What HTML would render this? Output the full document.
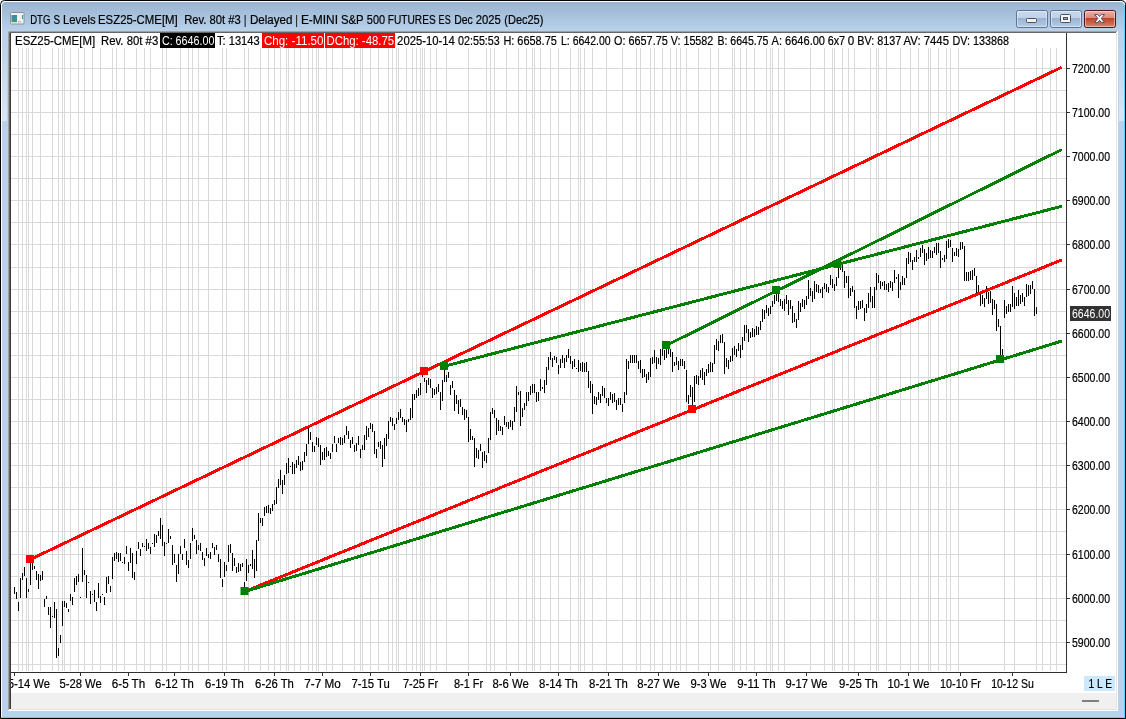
<!DOCTYPE html>
<html><head><meta charset="utf-8"><title>DTG S Levels ESZ25-CME[M]</title>
<style>html,body{margin:0;padding:0;background:#fff;overflow:hidden}svg{display:block}</style></head>
<body>
<svg width="1126" height="719" viewBox="0 0 1126 719" font-family="'Liberation Sans', sans-serif" font-size="12px">
<style>text{stroke:#000;stroke-width:0.2px;paint-order:stroke}text.w{stroke:none}</style>
<defs>
<linearGradient id="tg" x1="0" y1="0" x2="0" y2="1"><stop offset="0" stop-color="#99b4d1"/><stop offset="1" stop-color="#b9d1ea"/></linearGradient>
<linearGradient id="bt" x1="0" y1="0" x2="0" y2="1"><stop offset="0" stop-color="#c6d8ec"/><stop offset="0.45" stop-color="#bfd3e9"/><stop offset="0.46" stop-color="#98b2d0"/><stop offset="1" stop-color="#b6cee9"/></linearGradient>
<linearGradient id="bc" x1="0" y1="0" x2="0" y2="1"><stop offset="0" stop-color="#eab0a3"/><stop offset="0.45" stop-color="#dc8a79"/><stop offset="0.46" stop-color="#bf4229"/><stop offset="1" stop-color="#d98670"/></linearGradient>
<linearGradient id="ic" x1="0" y1="0" x2="0" y2="1"><stop offset="0" stop-color="#4a80c4"/><stop offset="1" stop-color="#3f9d62"/></linearGradient>
<linearGradient id="sg" x1="0" y1="0" x2="0" y2="1"><stop offset="0" stop-color="#b9d1ea"/><stop offset="1" stop-color="#d9e6f5"/></linearGradient>
<clipPath id="cc"><rect x="11" y="33" width="1055" height="639"/></clipPath>
<clipPath id="cx"><rect x="11" y="672" width="1106" height="21"/></clipPath>
</defs>
<rect width="1126" height="719" fill="#fff"/>
<path d="M0.5 718.5 V4.5 Q0.5 0.5 4.5 0.5 H1120.5 Q1125.5 0.5 1125.5 4.5 V718.5 Z" fill="#b9d1ea" stroke="#000" stroke-width="1"/>
<path d="M1.5 31 V5 Q1.5 1.5 5 1.5 H1120 Q1124.5 1.5 1124.5 5 V31 Z" fill="url(#tg)"/>
<path d="M1.5 717 V5 Q1.5 1.5 5 1.5 H1120 Q1124.5 1.5 1124.5 5" fill="none" stroke="#fff" stroke-width="1"/>
<path d="M1124.5 5 V717.5 H1" fill="none" stroke="#55d6fa" stroke-width="1"/>
<rect x="2" y="36" width="5" height="85" fill="url(#sg)"/><rect x="1119" y="36" width="5" height="85" fill="url(#sg)"/>
<rect x="8" y="31" width="1110" height="680" fill="#fff"/>
<path d="M8.5 710 V31.5 H1117" fill="none" stroke="#a0a0a0"/>
<path d="M9.5 709 V32.5 H1116" fill="none" stroke="#666"/>
<path d="M10.5 709 V33" fill="none" stroke="#3c3c3c"/>
<rect x="11" y="33" width="1106" height="660" fill="#fff"/>
<rect x="11" y="693" width="1106" height="16" fill="#f0f0f0"/>
<rect x="1116" y="33" width="1" height="677" fill="#e3e3e3"/>
<rect x="11" y="709" width="1106" height="1" fill="#e3e3e3"/>
<rect x="1082" y="700" width="17" height="2" fill="#808080"/>
<path d="M18.5 48V671M22.5 48V671M26.5 48V671M28.5 48V671M32.5 48V671M40.5 48V671M52.5 48V671M58.5 48V671M62.5 48V671M64.5 48V671M70.5 48V671M78.5 48V671M84.5 48V671M92.5 48V671M100.5 48V671M112.5 48V671M116.5 48V671M124.5 48V671M136.5 48V671M144.5 48V671M150.5 48V671M162.5 48V671M166.5 48V671M180.5 48V671M188.5 48V671M192.5 48V671M198.5 48V671M208.5 48V671M222.5 48V671M226.5 48V671M244.5 48V671M248.5 48V671M260.5 48V671M268.5 48V671M274.5 48V671M280.5 48V671M286.5 48V671M288.5 48V671M294.5 48V671M300.5 48V671M308.5 48V671M312.5 48V671M316.5 48V671M318.5 48V671M326.5 48V671M332.5 48V671M342.5 48V671M354.5 48V671M360.5 48V671M362.5 48V671M370.5 48V671M378.5 48V671M388.5 48V671M392.5 48V671M396.5 48V671M398.5 48V671M406.5 48V671M412.5 48V671M416.5 48V671M420.5 48V671M422.5 48V671M424.5 48V671M430.5 48V671M436.5 48V671M446.5 48V671M468.5 48V671M486.5 48V671M490.5 48V671M494.5 48V671M506.5 48V671M518.5 48V671M526.5 48V671M532.5 48V671M534.5 48V671M540.5 48V671M550.5 48V671M558.5 48V671M570.5 48V671M578.5 48V671M580.5 48V671M584.5 48V671M592.5 48V671M606.5 48V671M622.5 48V671M636.5 48V671M640.5 48V671M650.5 48V671M654.5 48V671M662.5 48V671M670.5 48V671M676.5 48V671M680.5 48V671M686.5 48V671M698.5 48V671M710.5 48V671M718.5 48V671M732.5 48V671M734.5 48V671M740.5 48V671M746.5 48V671M754.5 48V671M766.5 48V671M770.5 48V671M772.5 48V671M778.5 48V671M784.5 48V671M810.5 48V671M824.5 48V671M832.5 48V671M834.5 48V671M842.5 48V671M848.5 48V671M854.5 48V671M870.5 48V671M876.5 48V671M878.5 48V671M886.5 48V671M900.5 48V671M910.5 48V671M918.5 48V671M928.5 48V671M930.5 48V671M938.5 48V671M946.5 48V671M950.5 48V671M958.5 48V671M1004.5 48V671M1014.5 48V671M1036.5 48V671M1042.5 48V671M1050.5 48V671M1056.5 48V671M11 68.5H1066M11 90.5H1066M11 112.5H1066M11 134.5H1066M11 156.5H1066M11 178.5H1066M11 200.5H1066M11 222.5H1066M11 244.5H1066M11 267.5H1066M11 289.5H1066M11 311.5H1066M11 333.5H1066M11 355.5H1066M11 377.5H1066M11 399.5H1066M11 421.5H1066M11 443.5H1066M11 465.5H1066M11 487.5H1066M11 509.5H1066M11 531.5H1066M11 554.5H1066M11 576.5H1066M11 598.5H1066M11 620.5H1066M11 642.5H1066M11 664.5H1066" stroke="#d9d9d9" stroke-width="1" fill="none" shape-rendering="crispEdges"/>
<path d="M14.5 587V594M16.5 592V599M18.5 602V611M20.5 578V598M22.5 573V580M24.5 567V576M26.5 578V598M28.5 589V592M30.5 558V585M32.5 562V570M34.5 566V569M36.5 571V580M38.5 574V589M40.5 575V581M42.5 571V580M44.5 599V607M46.5 596V599M48.5 607V615M50.5 607V628M52.5 616V617M54.5 602V618M56.5 609V658M58.5 648V656M60.5 635V643M62.5 601V626M64.5 601V607M66.5 603V608M68.5 609V612M70.5 594V601M72.5 597V605M74.5 578V592M76.5 576V585M78.5 574V582M80.5 597V598M82.5 548V582M84.5 570V575M86.5 575V598M88.5 582V583M90.5 591V604M92.5 594V595M94.5 590V602M96.5 602V611M98.5 583V598M100.5 596V603M102.5 594V595M104.5 597V605M106.5 577V593M108.5 576V584M110.5 586V592M112.5 557V579M114.5 553V561M116.5 552V559M118.5 553V562M120.5 553V561M122.5 562V563M124.5 557V564M126.5 546V554M128.5 562V571M130.5 548V563M132.5 553V578M134.5 572V580M136.5 551V564M138.5 542V549M140.5 549V556M142.5 543V547M144.5 546V547M146.5 539V551M148.5 543V549M150.5 547V554M152.5 543V544M154.5 534V547M156.5 535V543M158.5 531V536M160.5 518V539M162.5 525V546M164.5 542V556M166.5 543V544M168.5 529V543M170.5 536V539M172.5 545V565M174.5 554V563M176.5 565V582M178.5 554V574M180.5 546V554M182.5 554V560M184.5 539V548M186.5 551V565M188.5 560V568M190.5 543V559M192.5 528V541M194.5 535V539M196.5 540V554M198.5 545V550M200.5 543V551M202.5 552V560M204.5 558V566M206.5 548V556M208.5 554V558M210.5 552V559M212.5 543V548M214.5 547V555M216.5 545V550M218.5 554V562M220.5 559V578M222.5 579V587M224.5 562V577M226.5 565V571M228.5 545V562M230.5 544V553M232.5 553V571M234.5 558V566M236.5 567V573M238.5 563V572M240.5 564V571M242.5 563V567M244.5 582V588M246.5 559V581M248.5 565V573M250.5 564V566M252.5 550V569M254.5 559V578M256.5 540V571M258.5 513V541M260.5 518V523M262.5 518V526M264.5 507V516M266.5 506V513M268.5 505V513M270.5 508V514M272.5 504V511M274.5 500V505M276.5 487V504M278.5 479V488M280.5 470V485M282.5 480V494M284.5 475V485M286.5 463V474M288.5 458V473M290.5 466V467M292.5 462V474M294.5 464V474M296.5 460V468M298.5 456V465M300.5 462V471M302.5 461V470M304.5 452V462M306.5 444V456M308.5 428V444M310.5 432V440M312.5 442V452M314.5 446V452M316.5 437V445M318.5 438V447M320.5 445V465M322.5 452V460M324.5 448V460M326.5 447V457M328.5 451V456M330.5 453V459M332.5 444V452M334.5 436V443M336.5 444V452M338.5 438V443M340.5 437V445M342.5 438V445M344.5 435V443M346.5 426V435M348.5 431V439M350.5 440V448M352.5 437V444M354.5 445V452M356.5 443V451M358.5 436V445M360.5 449V458M362.5 445V450M364.5 435V450M366.5 426V440M368.5 428V437M370.5 423V429M372.5 424V432M374.5 431V454M376.5 449V458M378.5 442V447M380.5 441V449M382.5 445V467M384.5 438V459M386.5 434V446M388.5 421V439M390.5 417V422M392.5 418V426M394.5 424V430M396.5 418V424M398.5 412V420M400.5 409V418M402.5 417V422M404.5 419V425M406.5 420V432M408.5 419V422M410.5 408V420M412.5 394V418M414.5 394V400M416.5 390V398M418.5 388V396M420.5 383V395M422.5 372V377M424.5 378V382M426.5 380V393M428.5 378V385M430.5 379V388M432.5 388V398M434.5 389V395M436.5 387V394M438.5 384V392M440.5 392V410M442.5 380V401M444.5 370V382M446.5 375V382M448.5 372V378M450.5 385V395M452.5 381V388M454.5 390V411M456.5 395V404M458.5 400V414M460.5 399V407M462.5 407V415M464.5 409V420M466.5 410V418M468.5 417V442M470.5 429V440M472.5 436V440M474.5 438V467M476.5 448V458M478.5 450V459M480.5 444V451M482.5 452V468M484.5 451V461M486.5 455V463M488.5 438V453M490.5 412V440M492.5 408V414M494.5 410V418M496.5 418V435M498.5 420V431M500.5 426V431M502.5 427V435M504.5 416V425M506.5 422V427M508.5 422V429M510.5 420V427M512.5 421V430M514.5 407V422M516.5 386V412M518.5 392V395M520.5 391V426M522.5 408V417M524.5 403V410M526.5 392V406M528.5 392V401M530.5 386V395M532.5 384V393M534.5 384V393M536.5 392V402M538.5 392V401M540.5 379V391M542.5 387V389M544.5 380V393M546.5 367V385M548.5 357V370M550.5 352V360M552.5 358V367M554.5 356V360M556.5 357V363M558.5 365V374M560.5 359V368M562.5 355V363M564.5 358V368M566.5 355V362M568.5 349V358M570.5 356V364M572.5 361V369M574.5 359V367M576.5 368V369M578.5 360V372M580.5 363V371M582.5 362V372M584.5 363V372M586.5 362V372M588.5 371V388M590.5 381V393M592.5 384V414M594.5 396V404M596.5 397V405M598.5 392V400M600.5 394V403M602.5 386V396M604.5 388V398M606.5 398V403M608.5 398V406M610.5 392V400M612.5 394V403M614.5 393V402M616.5 400V410M618.5 398V405M620.5 398V405M622.5 404V412M624.5 392V403M626.5 359V395M628.5 361V369M630.5 355V363M632.5 355V363M634.5 355V363M636.5 355V363M638.5 361V369M640.5 360V373M642.5 369V378M644.5 369V377M646.5 374V383M648.5 372V380M650.5 358V377M652.5 357V364M654.5 350V363M656.5 357V369M658.5 358V364M660.5 349V365M662.5 349V356M664.5 350V360M666.5 349V358M668.5 349V354M670.5 349V357M672.5 352V372M674.5 362V366M676.5 357V365M678.5 361V370M680.5 359V366M682.5 359V366M684.5 361V369M686.5 370V402M688.5 395V404M690.5 385V397M692.5 387V406M694.5 376V402M696.5 375V384M698.5 376V385M700.5 370V378M702.5 368V380M704.5 372V385M706.5 369V376M708.5 364V373M710.5 362V372M712.5 363V372M714.5 345V364M716.5 339V350M718.5 341V351M720.5 335V343M722.5 334V343M724.5 342V374M726.5 358V367M728.5 360V369M730.5 356V362M732.5 348V361M734.5 346V355M736.5 349V357M738.5 343V351M740.5 345V358M742.5 337V350M744.5 325V341M746.5 325V333M748.5 329V342M750.5 332V338M752.5 328V337M754.5 329V337M756.5 326V335M758.5 327V335M760.5 321V330M762.5 309V322M764.5 310V319M766.5 305V313M768.5 308V316M770.5 306V314M772.5 301V307M774.5 295V304M776.5 293V301M778.5 294V302M780.5 299V306M782.5 301V309M784.5 299V311M786.5 295V304M788.5 300V315M790.5 300V309M792.5 306V323M794.5 313V322M796.5 319V328M798.5 301V320M800.5 303V312M802.5 299V307M804.5 300V309M806.5 296V305M808.5 280V299M810.5 288V296M812.5 291V302M814.5 281V299M816.5 284V292M818.5 285V293M820.5 289V293M822.5 287V298M824.5 283V289M826.5 284V292M828.5 287V293M830.5 275V285M832.5 279V288M834.5 284V291M836.5 277V286M838.5 267V278M840.5 267V270M842.5 264V272M844.5 271V288M846.5 276V283M848.5 276V298M850.5 288V296M852.5 286V292M854.5 290V308M856.5 306V319M858.5 301V310M860.5 301V309M862.5 300V308M864.5 308V321M866.5 304V313M868.5 293V308M870.5 287V302M872.5 296V308M874.5 287V308M876.5 273V290M878.5 275V283M880.5 281V289M882.5 282V286M884.5 281V290M886.5 284V290M888.5 283V292M890.5 281V288M892.5 282V291M894.5 270V283M896.5 277V279M898.5 274V298M900.5 282V290M902.5 276V285M904.5 278V285M906.5 258V278M908.5 252V264M910.5 253V262M912.5 260V270M914.5 257V262M916.5 250V262M918.5 257V259M920.5 248V257M922.5 245V253M924.5 249V265M926.5 253V261M928.5 247V259M930.5 250V258M932.5 251V258M934.5 247V253M936.5 243V255M938.5 243V253M940.5 251V268M942.5 258V260M944.5 255V262M946.5 241V259M948.5 239V248M950.5 240V247M952.5 248V262M954.5 252V256M956.5 248V256M958.5 249V257M960.5 242V250M962.5 242V249M964.5 246V281M966.5 272V281M968.5 272V281M970.5 271V280M972.5 270V280M974.5 268V276M976.5 276V294M978.5 285V295M980.5 293V306M982.5 295V304M984.5 298V307M986.5 286V299M988.5 292V304M990.5 291V303M992.5 299V315M994.5 300V309M996.5 304V331M998.5 319V327M1000.5 326V356M1002.5 349V356M1004.5 300V318M1006.5 306V314M1008.5 304V312M1010.5 304V312M1012.5 286V307M1014.5 293V309M1016.5 297V306M1018.5 290V306M1020.5 295V304M1022.5 293V302M1024.5 297V306M1026.5 284V297M1028.5 285V296M1030.5 285V294M1032.5 281V289M1034.5 289V316M1036.5 307V314" stroke="#000" stroke-width="1" fill="none" shape-rendering="crispEdges"/>
<line x1="30" y1="559.6" x2="1061.8" y2="67.22" stroke="#ff0000" stroke-width="3" shape-rendering="crispEdges"/>
<line x1="244" y1="591.8" x2="1061.8" y2="259.88" stroke="#ff0000" stroke-width="3" shape-rendering="crispEdges"/>
<line x1="244" y1="591.8" x2="1061.8" y2="341.05" stroke="#008000" stroke-width="3" shape-rendering="crispEdges"/>
<line x1="444" y1="366.3" x2="1061.8" y2="206.29" stroke="#008000" stroke-width="3" shape-rendering="crispEdges"/>
<line x1="666" y1="345.5" x2="1061.8" y2="149.6" stroke="#008000" stroke-width="3" shape-rendering="crispEdges"/>
<rect x="26" y="555" width="8" height="8" fill="#ff0000"/>
<rect x="420" y="367" width="8" height="8" fill="#ff0000"/>
<rect x="688" y="405" width="8" height="8" fill="#ff0000"/>
<rect x="240.5" y="587" width="8" height="8" fill="#008000"/>
<rect x="440" y="362" width="8" height="8" fill="#008000"/>
<rect x="662" y="341" width="8" height="8" fill="#008000"/>
<rect x="772" y="286" width="8" height="8" fill="#008000"/>
<rect x="833.5" y="260" width="8" height="8" fill="#008000"/>
<rect x="996" y="355" width="8" height="8" fill="#008000"/>
<path d="M1066.5 33V672.5M11 672.5H1067" stroke="#303030" fill="none" shape-rendering="crispEdges"/>
<rect x="1067" y="68" width="3" height="1" fill="#303030"/>
<text x="1072" y="73.2" textLength="38" lengthAdjust="spacingAndGlyphs">7200.00</text>
<rect x="1067" y="112" width="3" height="1" fill="#303030"/>
<text x="1072" y="117.2" textLength="38" lengthAdjust="spacingAndGlyphs">7100.00</text>
<rect x="1067" y="156" width="3" height="1" fill="#303030"/>
<text x="1072" y="161.2" textLength="38" lengthAdjust="spacingAndGlyphs">7000.00</text>
<rect x="1067" y="200" width="3" height="1" fill="#303030"/>
<text x="1072" y="205.2" textLength="38" lengthAdjust="spacingAndGlyphs">6900.00</text>
<rect x="1067" y="244" width="3" height="1" fill="#303030"/>
<text x="1072" y="249.2" textLength="38" lengthAdjust="spacingAndGlyphs">6800.00</text>
<rect x="1067" y="289" width="3" height="1" fill="#303030"/>
<text x="1072" y="294.2" textLength="38" lengthAdjust="spacingAndGlyphs">6700.00</text>
<rect x="1067" y="333" width="3" height="1" fill="#303030"/>
<text x="1072" y="338.2" textLength="38" lengthAdjust="spacingAndGlyphs">6600.00</text>
<rect x="1067" y="377" width="3" height="1" fill="#303030"/>
<text x="1072" y="382.2" textLength="38" lengthAdjust="spacingAndGlyphs">6500.00</text>
<rect x="1067" y="421" width="3" height="1" fill="#303030"/>
<text x="1072" y="426.2" textLength="38" lengthAdjust="spacingAndGlyphs">6400.00</text>
<rect x="1067" y="465" width="3" height="1" fill="#303030"/>
<text x="1072" y="470.2" textLength="38" lengthAdjust="spacingAndGlyphs">6300.00</text>
<rect x="1067" y="509" width="3" height="1" fill="#303030"/>
<text x="1072" y="514.2" textLength="38" lengthAdjust="spacingAndGlyphs">6200.00</text>
<rect x="1067" y="554" width="3" height="1" fill="#303030"/>
<text x="1072" y="559.2" textLength="38" lengthAdjust="spacingAndGlyphs">6100.00</text>
<rect x="1067" y="598" width="3" height="1" fill="#303030"/>
<text x="1072" y="603.2" textLength="38" lengthAdjust="spacingAndGlyphs">6000.00</text>
<rect x="1067" y="642" width="3" height="1" fill="#303030"/>
<text x="1072" y="647.2" textLength="38" lengthAdjust="spacingAndGlyphs">5900.00</text>
<rect x="1070" y="306" width="41" height="15" fill="#323232"/>
<text x="1072" y="318.2" textLength="38" lengthAdjust="spacingAndGlyphs" fill="#fff" class="w">6646.00</text>
<g clip-path="url(#cx)">
<rect x="14" y="673" width="1" height="3" fill="#303030"/>
<text x="7.7" y="688" textLength="42.3" lengthAdjust="spacingAndGlyphs">5-14 We</text>
<rect x="80" y="673" width="1" height="3" fill="#303030"/>
<text x="59.4" y="688" textLength="42.3" lengthAdjust="spacingAndGlyphs">5-28 We</text>
<rect x="128" y="673" width="1" height="3" fill="#303030"/>
<text x="111.8" y="688" textLength="33.4" lengthAdjust="spacingAndGlyphs">6-5 Th</text>
<rect x="174" y="673" width="1" height="3" fill="#303030"/>
<text x="155.1" y="688" textLength="38.8" lengthAdjust="spacingAndGlyphs">6-12 Th</text>
<rect x="224" y="673" width="1" height="3" fill="#303030"/>
<text x="205.1" y="688" textLength="38.8" lengthAdjust="spacingAndGlyphs">6-19 Th</text>
<rect x="274" y="673" width="1" height="3" fill="#303030"/>
<text x="255.1" y="688" textLength="38.8" lengthAdjust="spacingAndGlyphs">6-26 Th</text>
<rect x="322" y="673" width="1" height="3" fill="#303030"/>
<text x="304.3" y="688" textLength="36.4" lengthAdjust="spacingAndGlyphs">7-7 Mo</text>
<rect x="370" y="673" width="1" height="3" fill="#303030"/>
<text x="351.4" y="688" textLength="38.3" lengthAdjust="spacingAndGlyphs">7-15 Tu</text>
<rect x="420" y="673" width="1" height="3" fill="#303030"/>
<text x="402.9" y="688" textLength="35.3" lengthAdjust="spacingAndGlyphs">7-25 Fr</text>
<rect x="468" y="673" width="1" height="3" fill="#303030"/>
<text x="453.9" y="688" textLength="29.3" lengthAdjust="spacingAndGlyphs">8-1 Fr</text>
<rect x="510" y="673" width="1" height="3" fill="#303030"/>
<text x="492.4" y="688" textLength="36.3" lengthAdjust="spacingAndGlyphs">8-6 We</text>
<rect x="558" y="673" width="1" height="3" fill="#303030"/>
<text x="539.1" y="688" textLength="38.8" lengthAdjust="spacingAndGlyphs">8-14 Th</text>
<rect x="608" y="673" width="1" height="3" fill="#303030"/>
<text x="589.1" y="688" textLength="38.8" lengthAdjust="spacingAndGlyphs">8-21 Th</text>
<rect x="658" y="673" width="1" height="3" fill="#303030"/>
<text x="637.2" y="688" textLength="42.6" lengthAdjust="spacingAndGlyphs">8-27 We</text>
<rect x="708" y="673" width="1" height="3" fill="#303030"/>
<text x="690.5" y="688" textLength="35.9" lengthAdjust="spacingAndGlyphs">9-3 We</text>
<rect x="756" y="673" width="1" height="3" fill="#303030"/>
<text x="737.2" y="688" textLength="38.5" lengthAdjust="spacingAndGlyphs">9-11 Th</text>
<rect x="806" y="673" width="1" height="3" fill="#303030"/>
<text x="785.5" y="688" textLength="42" lengthAdjust="spacingAndGlyphs">9-17 We</text>
<rect x="858" y="673" width="1" height="3" fill="#303030"/>
<text x="839.1" y="688" textLength="38.8" lengthAdjust="spacingAndGlyphs">9-25 Th</text>
<rect x="908" y="673" width="1" height="3" fill="#303030"/>
<text x="887.6" y="688" textLength="41.8" lengthAdjust="spacingAndGlyphs">10-1 We</text>
<rect x="960" y="673" width="1" height="3" fill="#303030"/>
<text x="940.1" y="688" textLength="40.8" lengthAdjust="spacingAndGlyphs">10-10 Fr</text>
<rect x="1012" y="673" width="1" height="3" fill="#303030"/>
<text x="991.2" y="688" textLength="42.6" lengthAdjust="spacingAndGlyphs">10-12 Su</text>
</g>
<rect x="1084" y="676" width="31" height="15" fill="#cce8ff"/>
<text x="1088.5" y="688" textLength="23.5" lengthAdjust="spacingAndGlyphs">1 L E</text>
<rect x="160" y="33" width="55" height="15" fill="#000"/>
<rect x="262" y="33" width="62" height="15" fill="#ff0000"/>
<rect x="325" y="33" width="70" height="15" fill="#ff0000"/>
<text x="15.1" y="44.6" textLength="80.0" lengthAdjust="spacingAndGlyphs" xml:space="preserve">ESZ25-CME[M]</text>
<text x="101.0" y="44.6" textLength="57.2" lengthAdjust="spacingAndGlyphs" xml:space="preserve">Rev. 80t #3</text>
<text x="161.9" y="44.6" textLength="52.5" lengthAdjust="spacingAndGlyphs" fill="#fff" class="w" xml:space="preserve">C: 6646.00</text>
<text x="217.0" y="44.6" textLength="42.6" lengthAdjust="spacingAndGlyphs" xml:space="preserve">T: 13143</text>
<text x="263.9" y="44.6" textLength="59.6" lengthAdjust="spacingAndGlyphs" fill="#fff" class="w" xml:space="preserve">Chg: -11.50</text>
<text x="326.5" y="44.6" textLength="67.6" lengthAdjust="spacingAndGlyphs" fill="#fff" class="w" xml:space="preserve">DChg: -48.75</text>
<text x="397.1" y="44.6" textLength="57.8" lengthAdjust="spacingAndGlyphs" xml:space="preserve">2025-10-14</text>
<text x="458.0" y="44.6" textLength="41.8" lengthAdjust="spacingAndGlyphs" xml:space="preserve">02:55:53</text>
<text x="503.4" y="44.6" textLength="53.4" lengthAdjust="spacingAndGlyphs" xml:space="preserve">H: 6658.75</text>
<text x="561.0" y="44.6" textLength="49.6" lengthAdjust="spacingAndGlyphs" xml:space="preserve">L: 6642.00</text>
<text x="614.1" y="44.6" textLength="53.6" lengthAdjust="spacingAndGlyphs" xml:space="preserve">O: 6657.75</text>
<text x="670.7" y="44.6" textLength="42.6" lengthAdjust="spacingAndGlyphs" xml:space="preserve">V: 15582</text>
<text x="717.5" y="44.6" textLength="50.9" lengthAdjust="spacingAndGlyphs" xml:space="preserve">B: 6645.75</text>
<text x="771.6" y="44.6" textLength="53.4" lengthAdjust="spacingAndGlyphs" xml:space="preserve">A: 6646.00</text>
<text x="827.7" y="44.6" textLength="17.4" lengthAdjust="spacingAndGlyphs" xml:space="preserve">6x7</text>
<text x="847.8" y="44.6" textLength="6.5" lengthAdjust="spacingAndGlyphs" xml:space="preserve">0</text>
<text x="857.3" y="44.6" textLength="43.9" lengthAdjust="spacingAndGlyphs" xml:space="preserve">BV: 8137</text>
<text x="903.6" y="44.6" textLength="45.4" lengthAdjust="spacingAndGlyphs" xml:space="preserve">AV: 7445</text>
<text x="952.5" y="44.6" textLength="56.4" lengthAdjust="spacingAndGlyphs" xml:space="preserve">DV: 133868</text>
<text x="30.2" y="23.5" textLength="20.2" lengthAdjust="spacingAndGlyphs" xml:space="preserve">DTG</text>
<text x="53.4" y="23.5" textLength="6.6" lengthAdjust="spacingAndGlyphs" xml:space="preserve">S</text>
<text x="63.0" y="23.5" textLength="32.6" lengthAdjust="spacingAndGlyphs" xml:space="preserve">Levels</text>
<text x="98.0" y="23.5" textLength="79.7" lengthAdjust="spacingAndGlyphs" xml:space="preserve">ESZ25-CME[M]</text>
<text x="184.2" y="23.5" textLength="56.6" lengthAdjust="spacingAndGlyphs" xml:space="preserve">Rev. 80t #3</text>
<text x="244.1" y="23.5" textLength="2.3" lengthAdjust="spacingAndGlyphs" xml:space="preserve">|</text>
<text x="250.0" y="23.5" textLength="42.4" lengthAdjust="spacingAndGlyphs" xml:space="preserve">Delayed</text>
<text x="295.4" y="23.5" textLength="2.3" lengthAdjust="spacingAndGlyphs" xml:space="preserve">|</text>
<text x="300.9" y="23.5" textLength="37.1" lengthAdjust="spacingAndGlyphs" xml:space="preserve">E-MINI</text>
<text x="341.0" y="23.5" textLength="22.6" lengthAdjust="spacingAndGlyphs" xml:space="preserve">S&amp;P</text>
<text x="366.8" y="23.5" textLength="18.3" lengthAdjust="spacingAndGlyphs" xml:space="preserve">500</text>
<text x="387.8" y="23.5" textLength="47.9" lengthAdjust="spacingAndGlyphs" xml:space="preserve">FUTURES</text>
<text x="438.6" y="23.5" textLength="12.1" lengthAdjust="spacingAndGlyphs" xml:space="preserve">ES</text>
<text x="454.2" y="23.5" textLength="18.6" lengthAdjust="spacingAndGlyphs" xml:space="preserve">Dec</text>
<text x="475.7" y="23.5" textLength="25.1" lengthAdjust="spacingAndGlyphs" xml:space="preserve">2025</text>
<text x="504.3" y="23.5" textLength="39.1" lengthAdjust="spacingAndGlyphs" xml:space="preserve">(Dec25)</text>
<rect x="10.5" y="12.5" width="13.5" height="11.5" rx="0.8" fill="#f1f1f1" stroke="#8e9198"/>
<rect x="11.5" y="15" width="5.5" height="7.2" fill="url(#ic)"/>
<rect x="22" y="15" width="1" height="4" fill="url(#ic)"/><rect x="18" y="21" width="3" height="1.4" fill="#c0c0c0"/>
<rect x="1016.5" y="10.5" width="31" height="17" rx="2" fill="url(#bt)" stroke="#5f7391"/>
<rect x="1017.5" y="11.5" width="29" height="15" rx="1.5" fill="none" stroke="#fff" stroke-opacity="0.45"/>
<rect x="1050.5" y="10.5" width="31" height="17" rx="2" fill="url(#bt)" stroke="#5f7391"/>
<rect x="1051.5" y="11.5" width="29" height="15" rx="1.5" fill="none" stroke="#fff" stroke-opacity="0.45"/>
<rect x="1084.5" y="10.5" width="31" height="17" rx="2" fill="url(#bc)" stroke="#4a1420"/>
<rect x="1085.5" y="11.5" width="29" height="15" rx="1.5" fill="none" stroke="#fff" stroke-opacity="0.45"/>
<rect x="1026.5" y="18.5" width="10" height="4" rx="1" fill="#f4f2ee" stroke="#484e66"/>
<rect x="1060.5" y="14.5" width="10" height="8" rx="1" fill="#f6f5f2" stroke="#484e66"/>
<rect x="1063.5" y="17.5" width="4" height="2" fill="#8fb0dc" stroke="#484e66"/>
<path d="M1094.7 14.6 L1097.8 14.6 L1099.6 16.6 L1101.4 14.6 L1104.5 14.6 L1101.3 18.4 L1104.5 22.4 L1101.4 22.4 L1099.6 20.3 L1097.8 22.4 L1094.7 22.4 L1097.9 18.4 Z" fill="#fff" stroke="#4d4f66" stroke-width="1" stroke-linejoin="round"/>
</svg>
</body></html>
